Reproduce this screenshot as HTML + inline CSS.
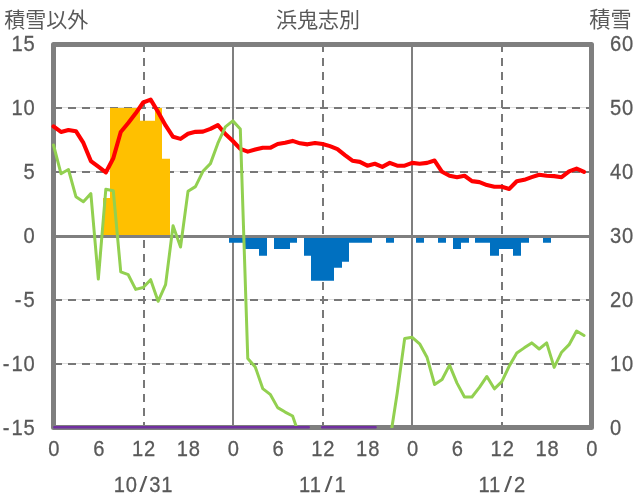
<!DOCTYPE html>
<html lang="ja">
<head>
<meta charset="utf-8">
<title>浜鬼志別</title>
<style>
html,body{margin:0;padding:0;background:#fff;overflow:hidden}
body{width:636px;height:501px;font-family:"Liberation Sans",sans-serif}
</style>
</head>
<body>
<svg width="636" height="501" viewBox="0 0 636 501" style="display:block;will-change:transform;font-family:'Liberation Sans',sans-serif">
<defs><clipPath id="pc"><rect x="50.5" y="44.5" width="544" height="383.4"/></clipPath></defs>
<rect width="636" height="501" fill="#fff"/>
<line x1="56" x2="589" y1="107.5" y2="107.5" stroke="#dedede" stroke-width="1"/>
<line x1="54" x2="592" y1="108" y2="108" stroke="#787878" stroke-width="2" stroke-dasharray="8 6"/>
<line x1="56" x2="589" y1="171.5" y2="171.5" stroke="#dedede" stroke-width="1"/>
<line x1="54" x2="592" y1="172" y2="172" stroke="#787878" stroke-width="2" stroke-dasharray="8 6"/>
<line x1="56" x2="589" y1="299.5" y2="299.5" stroke="#dedede" stroke-width="1"/>
<line x1="54" x2="592" y1="300" y2="300" stroke="#787878" stroke-width="2" stroke-dasharray="8 6"/>
<line x1="56" x2="589" y1="363.5" y2="363.5" stroke="#dedede" stroke-width="1"/>
<line x1="54" x2="592" y1="364" y2="364" stroke="#787878" stroke-width="2" stroke-dasharray="8 6"/>
<line x1="144" x2="144" y1="44" y2="428" stroke="#787878" stroke-width="2" stroke-dasharray="8 6"/>
<line x1="323" x2="323" y1="44" y2="428" stroke="#787878" stroke-width="2" stroke-dasharray="8 6"/>
<line x1="502" x2="502" y1="44" y2="428" stroke="#787878" stroke-width="2" stroke-dasharray="8 6"/>
<line x1="233" x2="233" y1="44" y2="428" stroke="#7f7f7f" stroke-width="2"/>
<line x1="412" x2="412" y1="44" y2="428" stroke="#7f7f7f" stroke-width="2"/>
<path fill="#ffc000" d="M103 236H110V198.1H103ZM110 236H117V108.05H110ZM117 236H125V108.05H117ZM125 236H132V108.05H125ZM132 236H140V108.05H132ZM140 236H147V120.85H140ZM147 236H155V120.85H147ZM155 236H162V108.05H155ZM162 236H170V158.85H162Z"/>
<path fill="#0070c0" d="M229 236H237V242.8H229ZM237 236H245V242.8H237ZM245 236H252V249H245ZM252 236H259V249H252ZM259 236H267V255.8H259ZM274 236H282V249H274ZM282 236H290V249H282ZM290 236H297V242.8H290ZM304 236H311V255.8H304ZM311 236H319V280.8H311ZM319 236H327V280.8H319ZM327 236H334V280.8H327ZM334 236H342V267.8H334ZM342 236H349V261.8H342ZM349 236H357V242.8H349ZM357 236H364V242.8H357ZM364 236H372V242.8H364ZM386 236H394V242.8H386ZM416 236H424V242.8H416ZM438 236H446V242.8H438ZM453 236H461V249H453ZM461 236H469V242.8H461ZM475 236H484V242.8H475ZM484 236H490V242.8H484ZM490 236H499V255.8H490ZM499 236H506V249H499ZM506 236H513V249H506ZM513 236H521V255.8H513ZM521 236H529V242.8H521ZM543 236H551V242.8H543Z"/>
<line x1="53.5" x2="591.5" y1="236.45" y2="236.45" stroke="#7f7f7f" stroke-width="2.9"/>
<rect x="53.5" y="44.5" width="538" height="383" fill="none" stroke="#7f7f7f" stroke-width="5" stroke-linejoin="round"/>
<polyline fill="none" stroke="#ff0000" stroke-width="4.1" stroke-linejoin="round" stroke-linecap="round"  points="53.5,126.36 60.97,131.98 68.44,129.93 75.92,131.21 83.39,142.96 90.86,161.09 98.33,166.7 105.81,172.45 113.28,158.28 120.75,131.98 128.22,123.04 135.69,113.34 143.17,102.48 150.64,99.68 158.11,112.06 165.58,125.47 173.06,136.83 180.53,138.87 188,133.76 195.47,131.85 202.94,131.59 210.42,128.91 217.89,125.08 225.36,134.02 232.83,141.04 240.31,148.83 247.78,151.64 255.25,149.6 262.72,147.81 270.19,147.81 277.67,143.98 285.14,142.7 292.61,140.91 300.08,143.34 307.56,144.36 315.03,142.96 322.5,143.98 329.97,146.15 337.44,149.08 344.92,155.08 352.39,160.7 359.86,161.85 367.33,165.68 374.81,163.77 382.28,166.83 389.75,162.87 397.22,165.68 404.69,165.68 412.17,162.87 419.64,163.77 427.11,162.87 434.58,160.57 442.06,171.81 449.53,175.77 457,177.17 464.47,175.77 471.94,181.13 479.42,182.15 486.89,185.09 494.36,186.75 501.83,186.75 509.31,188.92 516.78,181.26 524.25,179.85 531.72,177.17 539.19,174.75 546.67,175.77 554.14,176.15 561.61,177.17 569.08,171.43 576.56,168.62 584.03,171.94"/>
<polyline fill="none" stroke="#92d050" stroke-width="3" stroke-linejoin="round" stroke-linecap="round" clip-path="url(#pc)" points="53.5,145 60.97,173.72 68.44,169.51 75.92,196.71 83.39,201.68 90.86,193.64 98.33,279.05 105.81,189.3 113.28,190.7 120.75,271.9 128.22,274.71 135.69,289.39 143.17,287.48 150.64,279.69 158.11,301.27 165.58,284.67 173.06,225.81 180.53,247.01 188,191.34 195.47,186.62 202.94,171.3 210.42,163.64 217.89,143.21 225.36,126.87 232.83,120.87 240.31,129.04 247.78,358.46 255.25,366.89 262.72,388.59 270.19,394.34 277.67,407.62 285.14,412.08 292.61,416.04 300.08,437.62 307.56,446.56 315.03,446.56 322.5,446.56 329.97,446.56 337.44,446.56 344.92,446.56 352.39,446.56 359.86,446.56 367.33,446.56 374.81,446.56 382.28,446.56 389.75,441.45 397.22,392.93 404.69,338.42 412.17,337.27 419.64,343.78 427.11,357.57 434.58,384.51 442.06,379.53 449.53,365.1 457,383.1 464.47,397.02 471.94,397.02 479.42,387.44 486.89,376.46 494.36,388.85 501.83,381.7 509.31,365.87 516.78,353.1 524.25,347.87 531.72,342.89 539.19,349.02 546.67,342.89 554.14,367.4 561.61,352.21 569.08,344.67 576.56,331.01 584.03,335.48"/>
<path fill="none" stroke="#7030a0" stroke-width="2.4" stroke-linecap="round" d="M54.25 427.25H308.8M322.15 427.25H375.65"/>
<text transform="translate(35.6 50.55) scale(0.9 1)" text-anchor="end" font-size="22.4" letter-spacing="1.0" fill="#595959" stroke="#595959" stroke-width="0.3">15</text>
<text transform="translate(35.6 114.61) scale(0.9 1)" text-anchor="end" font-size="22.4" letter-spacing="1.0" fill="#595959" stroke="#595959" stroke-width="0.3">10</text>
<text transform="translate(35.6 178.67) scale(0.9 1)" text-anchor="end" font-size="22.4" letter-spacing="1.0" fill="#595959" stroke="#595959" stroke-width="0.3">5</text>
<text transform="translate(35.6 242.73) scale(0.9 1)" text-anchor="end" font-size="22.4" letter-spacing="1.0" fill="#595959" stroke="#595959" stroke-width="0.3">0</text>
<text transform="translate(35.6 306.79) scale(0.9 1)" text-anchor="end" font-size="22.4" letter-spacing="1.0" fill="#595959" stroke="#595959" stroke-width="0.3">-<tspan dx="1.2">5</tspan></text>
<text transform="translate(35.6 370.85) scale(0.9 1)" text-anchor="end" font-size="22.4" letter-spacing="1.0" fill="#595959" stroke="#595959" stroke-width="0.3">-<tspan dx="1.2">10</tspan></text>
<text transform="translate(35.6 434.91) scale(0.9 1)" text-anchor="end" font-size="22.4" letter-spacing="1.0" fill="#595959" stroke="#595959" stroke-width="0.3">-<tspan dx="1.2">15</tspan></text>
<text transform="translate(610 50.55) scale(0.9 1)" text-anchor="start" font-size="22.4" letter-spacing="1.0" fill="#595959" stroke="#595959" stroke-width="0.3">60</text>
<text transform="translate(610 114.61) scale(0.9 1)" text-anchor="start" font-size="22.4" letter-spacing="1.0" fill="#595959" stroke="#595959" stroke-width="0.3">50</text>
<text transform="translate(610 178.67) scale(0.9 1)" text-anchor="start" font-size="22.4" letter-spacing="1.0" fill="#595959" stroke="#595959" stroke-width="0.3">40</text>
<text transform="translate(610 242.73) scale(0.9 1)" text-anchor="start" font-size="22.4" letter-spacing="1.0" fill="#595959" stroke="#595959" stroke-width="0.3">30</text>
<text transform="translate(610 306.79) scale(0.9 1)" text-anchor="start" font-size="22.4" letter-spacing="1.0" fill="#595959" stroke="#595959" stroke-width="0.3">20</text>
<text transform="translate(610 370.85) scale(0.9 1)" text-anchor="start" font-size="22.4" letter-spacing="1.0" fill="#595959" stroke="#595959" stroke-width="0.3">10</text>
<text transform="translate(610 434.91) scale(0.9 1)" text-anchor="start" font-size="22.4" letter-spacing="1.0" fill="#595959" stroke="#595959" stroke-width="0.3">0</text>
<text transform="translate(54.35 455.7) scale(0.9 1)" text-anchor="middle" font-size="22.4" letter-spacing="1.0" fill="#595959" stroke="#595959" stroke-width="0.3">0</text>
<text transform="translate(99.18 455.7) scale(0.9 1)" text-anchor="middle" font-size="22.4" letter-spacing="1.0" fill="#595959" stroke="#595959" stroke-width="0.3">6</text>
<text transform="translate(144.02 455.7) scale(0.9 1)" text-anchor="middle" font-size="22.4" letter-spacing="1.0" fill="#595959" stroke="#595959" stroke-width="0.3">12</text>
<text transform="translate(188.85 455.7) scale(0.9 1)" text-anchor="middle" font-size="22.4" letter-spacing="1.0" fill="#595959" stroke="#595959" stroke-width="0.3">18</text>
<text transform="translate(233.68 455.7) scale(0.9 1)" text-anchor="middle" font-size="22.4" letter-spacing="1.0" fill="#595959" stroke="#595959" stroke-width="0.3">0</text>
<text transform="translate(278.52 455.7) scale(0.9 1)" text-anchor="middle" font-size="22.4" letter-spacing="1.0" fill="#595959" stroke="#595959" stroke-width="0.3">6</text>
<text transform="translate(323.35 455.7) scale(0.9 1)" text-anchor="middle" font-size="22.4" letter-spacing="1.0" fill="#595959" stroke="#595959" stroke-width="0.3">12</text>
<text transform="translate(368.18 455.7) scale(0.9 1)" text-anchor="middle" font-size="22.4" letter-spacing="1.0" fill="#595959" stroke="#595959" stroke-width="0.3">18</text>
<text transform="translate(413.02 455.7) scale(0.9 1)" text-anchor="middle" font-size="22.4" letter-spacing="1.0" fill="#595959" stroke="#595959" stroke-width="0.3">0</text>
<text transform="translate(457.85 455.7) scale(0.9 1)" text-anchor="middle" font-size="22.4" letter-spacing="1.0" fill="#595959" stroke="#595959" stroke-width="0.3">6</text>
<text transform="translate(502.68 455.7) scale(0.9 1)" text-anchor="middle" font-size="22.4" letter-spacing="1.0" fill="#595959" stroke="#595959" stroke-width="0.3">12</text>
<text transform="translate(547.52 455.7) scale(0.9 1)" text-anchor="middle" font-size="22.4" letter-spacing="1.0" fill="#595959" stroke="#595959" stroke-width="0.3">18</text>
<text transform="translate(592.35 455.7) scale(0.9 1)" text-anchor="middle" font-size="22.4" letter-spacing="1.0" fill="#595959" stroke="#595959" stroke-width="0.3">0</text>
<text transform="translate(113.67 491.8) scale(0.9 1)" text-anchor="start" font-size="22.4" letter-spacing="1.0" fill="#595959" stroke="#595959" stroke-width="0.3">10</text>
<text transform="translate(143.27 491.8) scale(1.3 1)" text-anchor="middle" font-size="22.4" fill="#595959">/</text>
<text transform="translate(149.17 491.8) scale(0.9 1)" text-anchor="start" font-size="22.4" letter-spacing="1.0" fill="#595959" stroke="#595959" stroke-width="0.3">31</text>
<text transform="translate(299.05 491.8) scale(0.9 1)" text-anchor="start" font-size="22.4" letter-spacing="1.0" fill="#595959" stroke="#595959" stroke-width="0.3">11</text>
<text transform="translate(328.65 491.8) scale(1.3 1)" text-anchor="middle" font-size="22.4" fill="#595959">/</text>
<text transform="translate(334.55 491.8) scale(0.9 1)" text-anchor="start" font-size="22.4" letter-spacing="1.0" fill="#595959" stroke="#595959" stroke-width="0.3">1</text>
<text transform="translate(478.38 491.8) scale(0.9 1)" text-anchor="start" font-size="22.4" letter-spacing="1.0" fill="#595959" stroke="#595959" stroke-width="0.3">11</text>
<text transform="translate(507.98 491.8) scale(1.3 1)" text-anchor="middle" font-size="22.4" fill="#595959">/</text>
<text transform="translate(513.88 491.8) scale(0.9 1)" text-anchor="start" font-size="22.4" letter-spacing="1.0" fill="#595959" stroke="#595959" stroke-width="0.3">2</text>
<text x="4.2" y="26.85" font-size="21" fill="#595959" style="font-family:'Liberation Sans','Noto Sans CJK JP',sans-serif">積雪以外</text>
<text x="276" y="26.55" font-size="21" fill="#595959" style="font-family:'Liberation Sans','Noto Sans CJK JP',sans-serif">浜鬼志別</text>
<text x="589.2" y="26.85" font-size="21.2" fill="#595959" style="font-family:'Liberation Sans','Noto Sans CJK JP',sans-serif">積雪</text>
</svg>
</body>
</html>
